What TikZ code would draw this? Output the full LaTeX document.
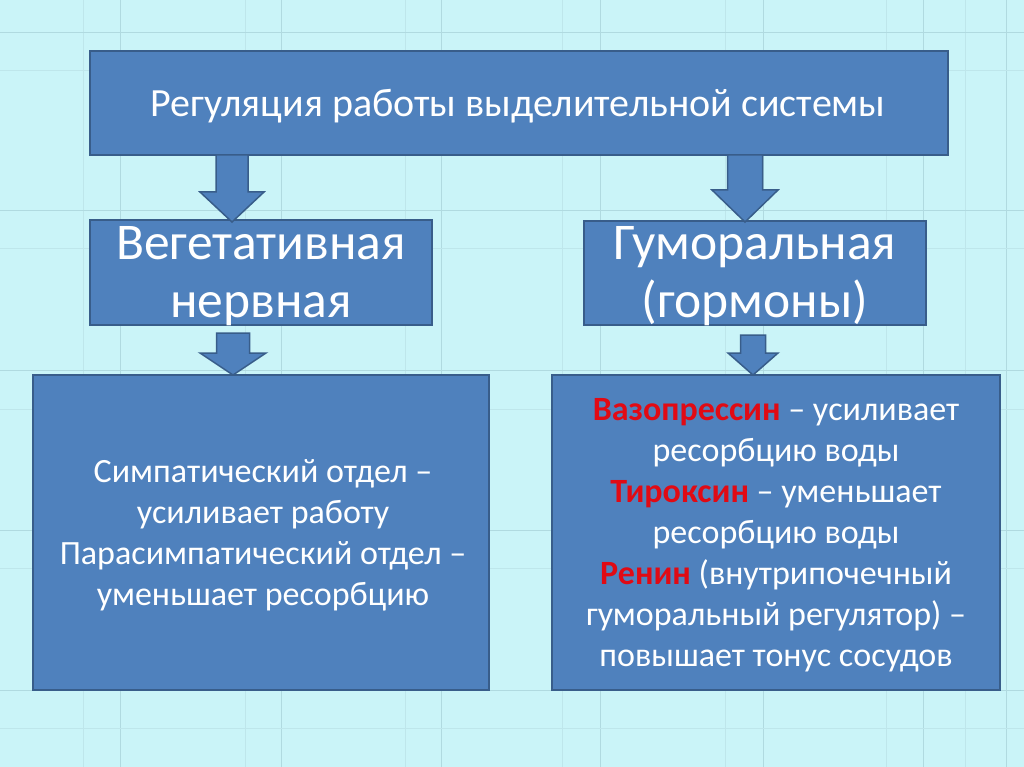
\documentclass[tikz,border=0pt]{standalone}
\usepackage{fontspec}
\setmainfont{Carlito}
\definecolor{bgc}{RGB}{202,244,248}
\definecolor{gridc}{RGB}{176,218,224}
\definecolor{gridl}{RGB}{190,230,235}
\definecolor{boxfill}{RGB}{79,129,189}
\definecolor{boxborder}{RGB}{56,93,138}
\definecolor{redtxt}{RGB}{225,10,20}
\newcommand\myBlockArrow[6]{%
  \filldraw[blockarr] ({#1-#3},#2) -- ({#1-#3},#4) -- ({#1-#5},#4) -- (#1,#6)
    -- ({#1+#5},#4) -- ({#1+#3},#4) -- ({#1+#3},#2) -- cycle;}
\newcommand\rd[1]{\textcolor{redtxt}{\textbf{#1}}}
\begin{document}
\begin{tikzpicture}[x=1pt,y=-1pt,
  box/.style={draw=boxborder,fill=boxfill,line width=1.5pt,inner sep=0pt,text=white},
  blockarr/.style={draw=boxborder,fill=boxfill,line width=1.5pt,line join=miter},
  gline/.style={draw=gridc,line width=0.9pt},
  gfaint/.style={draw=gridl,line width=0.9pt},
  toptext/.style={font=\fontsize{40}{48}\selectfont,text=white},
  midtext/.style={font=\fontsize{51.5}{58}\selectfont,text=white,align=center},
  bottext/.style={font=\fontsize{34}{41}\selectfont,text=white,align=center}]
\useasboundingbox (0,0) rectangle (1024,767);
\fill[bgc] (0,0) rectangle (1024,767);
% grid
\foreach \x in {120,281,441,600,763,923,1006} {\draw[gline] (\x,0) -- (\x,767);}
\foreach \x in {83,245,405,562,725,886,965} {\draw[gfaint] (\x,0) -- (\x,767);}
\foreach \y in {32,210,370,530,690} {\draw[gline] (0,\y) -- (1024,\y);}
\foreach \y in {70,248,409,568,728} {\draw[gfaint] (0,\y) -- (1024,\y);}
% boxes
\node[box,minimum width=858pt,minimum height=104pt] (top) at (519,103) {};
\node[toptext,anchor=base] (toptxt) at (518,117) {Регуляция работы выделительной системы};
\node[box,minimum width=342pt,minimum height=105pt] (veg) at (261,272.5) {};
\node[midtext,anchor=north] (vegtxt) at (261,223) {Вегетативная\\нервная};
\node[box,minimum width=342pt,minimum height=104pt] (gum) at (755,273) {};
\node[midtext,anchor=north] (gumtxt) at (755,223) {Гуморальная\\(гормоны)};
\node[box,minimum width=456pt,minimum height=315pt] (nerv) at (261,532.5) {};
\node[bottext] (nervtxt) at (263,535) {Симпатический отдел –\\усиливает работу\\Парасимпатический отдел –\\уменьшает ресорбцию};
\node[box,minimum width=448pt,minimum height=315pt] (horm) at (776,532.5) {};
\node[bottext] (hormtxt) at (776,535) {\rd{Вазопрессин} – усиливает\\ресорбцию воды\\\rd{Тироксин} – уменьшает\\ресорбцию воды\\\rd{Ренин} (внутрипочечный\\гуморальный регулятор) –\\повышает тонус сосудов};
% block arrows
\myBlockArrow{232}{155}{16}{192}{32}{222}
\myBlockArrow{745}{155}{17.5}{190}{33}{222}
\myBlockArrow{233}{333}{16.5}{353}{33}{375}
\myBlockArrow{753}{335}{12.5}{353}{25}{375}
\end{tikzpicture}
\end{document}
